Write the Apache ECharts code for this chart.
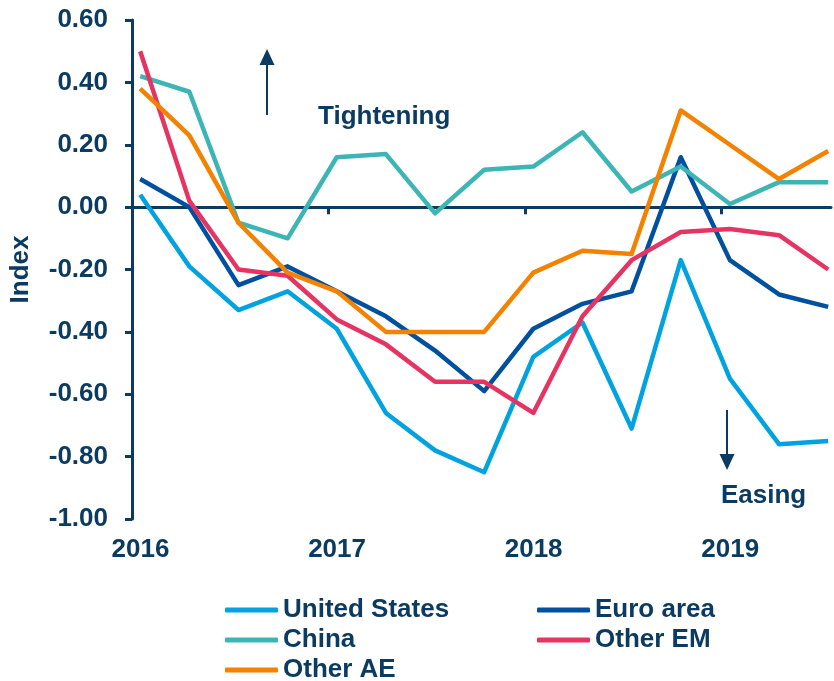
<!DOCTYPE html>
<html>
<head>
<meta charset="utf-8">
<title>Monetary conditions index</title>
<script src="https://cdn.jsdelivr.net/npm/echarts@6/dist/echarts.min.js"></script>
<style>
  html, body { margin: 0; padding: 0; background: #fff; }
  #chart { width: 834px; height: 681px; }
</style>
</head>
<body>
<div id="chart"></div>
<script>
// quarterly observations, 2016Q1 .. 2019Q3
const quarters = ['2016Q1', '2016Q2', '2016Q3', '2016Q4',
                  '2017Q1', '2017Q2', '2017Q3', '2017Q4',
                  '2018Q1', '2018Q2', '2018Q3', '2018Q4',
                  '2019Q1', '2019Q2', '2019Q3'];
const yearLabels = [2016, 2017, 2018, 2019];

const unitedStates = [0.04, -0.19, -0.33, -0.27, -0.39, -0.66, -0.78, -0.85, -0.48, -0.37, -0.71, -0.17, -0.55, -0.76, -0.75];
const euroArea     = [0.09, 0.00, -0.25, -0.19, -0.27, -0.35, -0.46, -0.59, -0.39, -0.31, -0.27, 0.16, -0.17, -0.28, -0.32];
const china        = [0.42, 0.37, -0.05, -0.10, 0.16, 0.17, -0.02, 0.12, 0.13, 0.24, 0.05, 0.13, 0.01, 0.08, 0.08];
const otherEM      = [0.50, 0.02, -0.20, -0.22, -0.36, -0.44, -0.56, -0.56, -0.66, -0.35, -0.17, -0.08, -0.07, -0.09, -0.20];
const otherAE      = [0.38, 0.23, -0.05, -0.21, -0.27, -0.40, -0.40, -0.40, -0.21, -0.14, -0.15, 0.31, 0.20, 0.09, 0.18];

const yTicks = { min: -1.0, max: 0.6, step: 0.2 };

const navy = '#0b3b60';
const font = 'Liberation Sans, Arial, sans-serif';

// quarter label -> decimal year (plotted mid-way through the quarter's first month)
function quarterToYear(q) {
    const year = parseInt(q.slice(0, 4), 10);
    const n = parseInt(q.slice(5), 10);
    return year + (n - 1) / 4 + 1 / 24;
}

function toPairs(values) {
    return values.map((v, i) => [quarterToYear(quarters[i]), v]);
}

const chart = echarts.init(document.getElementById('chart'), null, { renderer: 'canvas' });

const seriesDefs = [
    { name: 'United States', data: unitedStates, color: '#00a3e0' },
    { name: 'Euro area', data: euroArea, color: '#0050a0' },
    { name: 'China', data: china, color: '#3db5b5' },
    { name: 'Other EM', data: otherEM, color: '#e63462' },
    { name: 'Other AE', data: otherAE, color: '#f28200' }
];

const xMin = yearLabels[0];
const xMax = 2019.556;

// two legend columns, rows 30px apart
const legendText = { color: navy, fontFamily: font, fontWeight: 'bold', fontSize: 26 };
const legendBase = {
    orient: 'vertical', top: 597, height: 120, padding: 0, itemGap: 4,
    itemWidth: 53, itemHeight: 5, icon: 'roundRect',
    textStyle: legendText, selectedMode: false
};

const option = {
    backgroundColor: '#ffffff',
    animation: false,
    textStyle: { fontFamily: font },
    grid: { left: 130, right: 0, top: 20, bottom: 162, containLabel: false },
    legend: [
        Object.assign({ data: ['United States', 'China', 'Other AE'], left: 225 }, legendBase),
        Object.assign({ data: ['Euro area', 'Other EM'], left: 537 }, legendBase)
    ],
    xAxis: [
        {
            // year labels along the bottom
            type: 'value', position: 'bottom', min: xMin, max: xMax, interval: 1,
            axisLine: { show: false, onZero: false },
            axisTick: { show: false },
            splitLine: { show: false },
            axisLabel: {
                color: navy, fontWeight: 'bold', fontSize: 26, fontFamily: font,
                margin: 18, padding: [0, 0, 0, 17],
                formatter: v => (yearLabels.indexOf(Math.round(v)) >= 0 && Math.abs(v - Math.round(v)) < 1e-6) ? String(Math.round(v)) : ''
            }
        },
        {
            // zero line with year ticks
            type: 'value', position: 'top', min: xMin, max: xMax, interval: 1,
            axisLine: { show: true, onZero: true, lineStyle: { color: navy, width: 3 } },
            axisTick: { show: true, inside: true, length: 7, lineStyle: { color: navy, width: 3 },
                        customValues: yearLabels.slice(1) },
            axisLabel: { show: false },
            splitLine: { show: false }
        }
    ],
    yAxis: {
        type: 'value', min: yTicks.min, max: yTicks.max, interval: yTicks.step,
        name: 'Index', nameLocation: 'middle', nameGap: 98, nameRotate: 90,
        nameTextStyle: { color: navy, fontWeight: 'bold', fontSize: 26, fontFamily: font },
        axisLine: { show: true, lineStyle: { color: navy, width: 3 } },
        axisTick: { show: true, length: 7, lineStyle: { color: navy, width: 3 } },
        splitLine: { show: false },
        axisLabel: {
            color: navy, fontWeight: 'bold', fontSize: 26, fontFamily: font, margin: 24,
            formatter: v => v.toFixed(2)
        }
    },
    series: seriesDefs.map(s => ({
        name: s.name,
        type: 'line',
        xAxisIndex: 0,
        data: toPairs(s.data),
        symbol: 'none',
        color: s.color,
        lineStyle: { color: s.color, width: 4.5, join: 'round' },
        itemStyle: { color: s.color },
        clip: false
    })),
    graphic: [
        {
            type: 'group',
            children: [
                { type: 'line', shape: { x1: 267, y1: 115, x2: 267, y2: 60 }, style: { stroke: navy, lineWidth: 2 } },
                { type: 'polygon', shape: { points: [[267, 49], [259.5, 65], [274.5, 65]] }, style: { fill: navy } },
                { type: 'line', shape: { x1: 727, y1: 410, x2: 727, y2: 458 }, style: { stroke: navy, lineWidth: 2 } },
                { type: 'polygon', shape: { points: [[727, 470], [719.5, 454], [734.5, 454]] }, style: { fill: navy } }
            ]
        },
        {
            type: 'text', left: 318, top: 104,
            style: { text: 'Tightening', fill: navy, font: 'bold 26px ' + font }
        },
        {
            type: 'text', left: 721, top: 483,
            style: { text: 'Easing', fill: navy, font: 'bold 26px ' + font }
        }
    ]
};

chart.setOption(option);
</script>
</body>
</html>
